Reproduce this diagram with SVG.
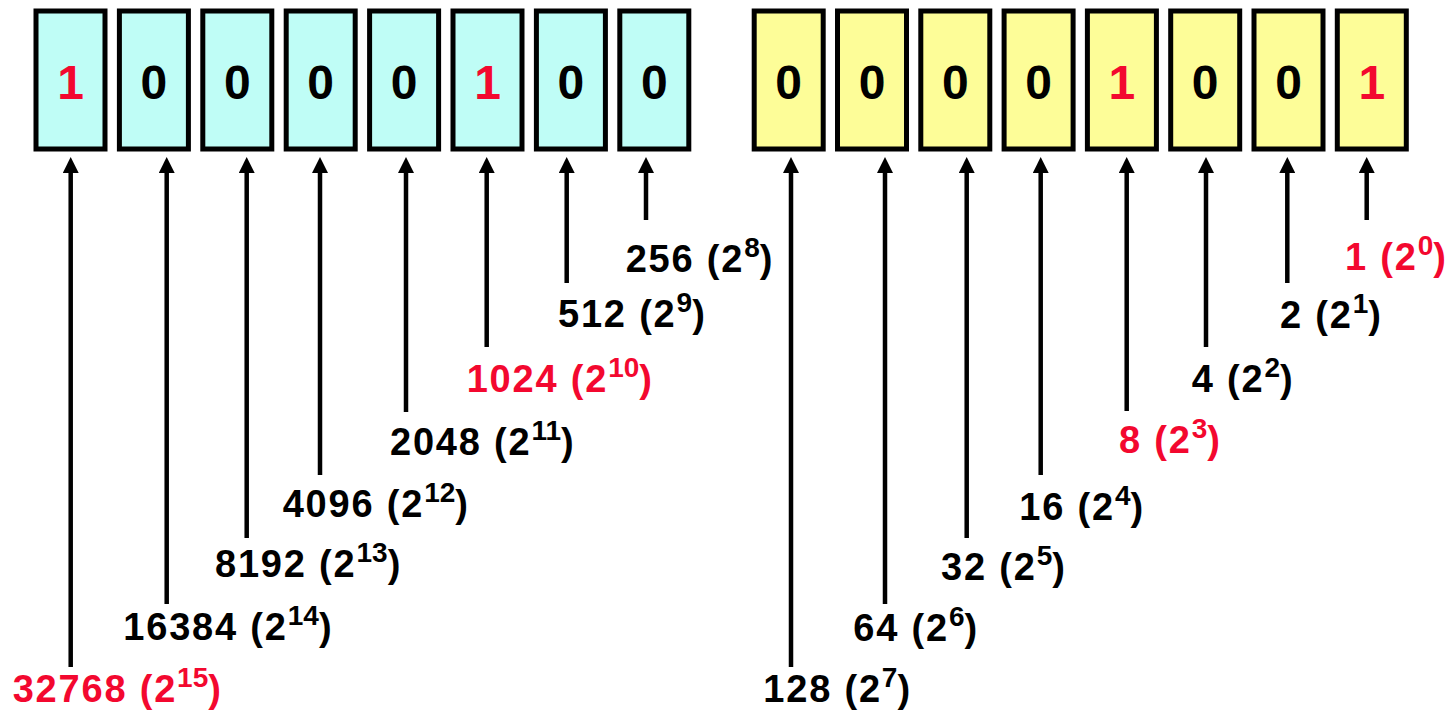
<svg xmlns="http://www.w3.org/2000/svg" width="1451" height="711" viewBox="0 0 1451 711">
<style>
.hi{fill:#bffdf6;stroke:#000;stroke-width:5}
.lo{fill:#fdfd98;stroke:#000;stroke-width:5}
.bit{font-family:"Liberation Sans",Arial,sans-serif;font-weight:bold;font-size:48px;text-anchor:middle;fill:#000}
.lbl{font-family:"Liberation Sans",Arial,sans-serif;font-weight:bold;font-size:38px;letter-spacing:1.8px;fill:#000}
.sup{font-size:28px;letter-spacing:0px}
.arr{stroke:#000;stroke-width:4.5;fill:none}
text.red{fill:#f3082f}
</style>
<defs>
<marker id="ah" markerUnits="userSpaceOnUse" markerWidth="16" markerHeight="16" refX="2" refY="8" orient="auto" viewBox="0 0 16 16">
<path d="M0,0 L16,8 L0,16 z" fill="#000"/>
</marker>
</defs>
<g id="bits">
<g id="b15"><rect class="hi" x="36" y="11" width="69" height="138"/><text class="bit red" x="70.5" y="98.5">1</text></g>
<g id="b14"><rect class="hi" x="119.4" y="11" width="69" height="138"/><text class="bit" x="153.9" y="98.5">0</text></g>
<g id="b13"><rect class="hi" x="202.8" y="11" width="69" height="138"/><text class="bit" x="237.3" y="98.5">0</text></g>
<g id="b12"><rect class="hi" x="286.2" y="11" width="69" height="138"/><text class="bit" x="320.7" y="98.5">0</text></g>
<g id="b11"><rect class="hi" x="369.6" y="11" width="69" height="138"/><text class="bit" x="404.1" y="98.5">0</text></g>
<g id="b10"><rect class="hi" x="453" y="11" width="69" height="138"/><text class="bit red" x="487.5" y="98.5">1</text></g>
<g id="b9"><rect class="hi" x="536.4" y="11" width="69" height="138"/><text class="bit" x="570.9" y="98.5">0</text></g>
<g id="b8"><rect class="hi" x="619.8" y="11" width="69" height="138"/><text class="bit" x="654.3" y="98.5">0</text></g>
<g id="b7"><rect class="lo" x="754.2" y="11" width="69" height="138"/><text class="bit" x="788.7" y="98.5">0</text></g>
<g id="b6"><rect class="lo" x="837.5" y="11" width="69" height="138"/><text class="bit" x="872" y="98.5">0</text></g>
<g id="b5"><rect class="lo" x="920.8" y="11" width="69" height="138"/><text class="bit" x="955.3" y="98.5">0</text></g>
<g id="b4"><rect class="lo" x="1004.1" y="11" width="69" height="138"/><text class="bit" x="1038.6" y="98.5">0</text></g>
<g id="b3"><rect class="lo" x="1087.4" y="11" width="69" height="138"/><text class="bit red" x="1121.9" y="98.5">1</text></g>
<g id="b2"><rect class="lo" x="1170.7" y="11" width="69" height="138"/><text class="bit" x="1205.2" y="98.5">0</text></g>
<g id="b1"><rect class="lo" x="1254" y="11" width="69" height="138"/><text class="bit" x="1288.5" y="98.5">0</text></g>
<g id="b0"><rect class="lo" x="1337.3" y="11" width="69" height="138"/><text class="bit red" x="1371.8" y="98.5">1</text></g>
</g>
<g id="connectors">
<line class="arr" x1="70.7" y1="667" x2="70.7" y2="171" marker-end="url(#ah)"/>
<line class="arr" x1="166.7" y1="604" x2="166.7" y2="171" marker-end="url(#ah)"/>
<line class="arr" x1="246.7" y1="538" x2="246.7" y2="171" marker-end="url(#ah)"/>
<line class="arr" x1="320" y1="475" x2="320" y2="171" marker-end="url(#ah)"/>
<line class="arr" x1="406" y1="412" x2="406" y2="171" marker-end="url(#ah)"/>
<line class="arr" x1="486.7" y1="347" x2="486.7" y2="171" marker-end="url(#ah)"/>
<line class="arr" x1="566.7" y1="283" x2="566.7" y2="171" marker-end="url(#ah)"/>
<line class="arr" x1="646" y1="220" x2="646" y2="171" marker-end="url(#ah)"/>
<line class="arr" x1="791" y1="667" x2="791" y2="171" marker-end="url(#ah)"/>
<line class="arr" x1="885" y1="604" x2="885" y2="171" marker-end="url(#ah)"/>
<line class="arr" x1="966.7" y1="538" x2="966.7" y2="171" marker-end="url(#ah)"/>
<line class="arr" x1="1040.7" y1="475" x2="1040.7" y2="171" marker-end="url(#ah)"/>
<line class="arr" x1="1126.7" y1="411" x2="1126.7" y2="171" marker-end="url(#ah)"/>
<line class="arr" x1="1206" y1="347" x2="1206" y2="171" marker-end="url(#ah)"/>
<line class="arr" x1="1287.3" y1="283" x2="1287.3" y2="171" marker-end="url(#ah)"/>
<line class="arr" x1="1366.7" y1="220" x2="1366.7" y2="171" marker-end="url(#ah)"/>
</g>
<g id="labels">
<g id="l15"><text class="lbl red" x="12.7" y="702">32768 (2<tspan class="sup" y="687">15</tspan><tspan y="702">)</tspan></text></g>
<g id="l14"><text class="lbl" x="123.3" y="640">16384 (2<tspan class="sup" y="625">14</tspan><tspan y="640">)</tspan></text></g>
<g id="l13"><text class="lbl" x="215" y="577">8192 (2<tspan class="sup" y="562">13</tspan><tspan y="577">)</tspan></text></g>
<g id="l12"><text class="lbl" x="282.7" y="517">4096 (2<tspan class="sup" y="502">12</tspan><tspan y="517">)</tspan></text></g>
<g id="l11"><text class="lbl" x="390" y="455">2048 (2<tspan class="sup" y="440">11</tspan><tspan y="455">)</tspan></text></g>
<g id="l10"><text class="lbl red" x="466.7" y="392">1024 (2<tspan class="sup" y="377">10</tspan><tspan y="392">)</tspan></text></g>
<g id="l9"><text class="lbl" x="558" y="327">512 (2<tspan class="sup" y="312">9</tspan><tspan y="327">)</tspan></text></g>
<g id="l8"><text class="lbl" x="625.7" y="272">256 (2<tspan class="sup" y="257">8</tspan><tspan y="272">)</tspan></text></g>
<g id="l7"><text class="lbl" x="763.3" y="702">128 (2<tspan class="sup" y="687">7</tspan><tspan y="702">)</tspan></text></g>
<g id="l6"><text class="lbl" x="853.3" y="641">64 (2<tspan class="sup" y="626">6</tspan><tspan y="641">)</tspan></text></g>
<g id="l5"><text class="lbl" x="941" y="580">32 (2<tspan class="sup" y="565">5</tspan><tspan y="580">)</tspan></text></g>
<g id="l4"><text class="lbl" x="1019.3" y="520">16 (2<tspan class="sup" y="505">4</tspan><tspan y="520">)</tspan></text></g>
<g id="l3"><text class="lbl red" x="1119" y="453">8 (2<tspan class="sup" y="438">3</tspan><tspan y="453">)</tspan></text></g>
<g id="l2"><text class="lbl" x="1191.7" y="392">4 (2<tspan class="sup" y="377">2</tspan><tspan y="392">)</tspan></text></g>
<g id="l1"><text class="lbl" x="1280" y="328">2 (2<tspan class="sup" y="313">1</tspan><tspan y="328">)</tspan></text></g>
<g id="l0"><text class="lbl red" x="1345" y="270">1 (2<tspan class="sup" y="255">0</tspan><tspan y="270">)</tspan></text></g>
</g>
</svg>
